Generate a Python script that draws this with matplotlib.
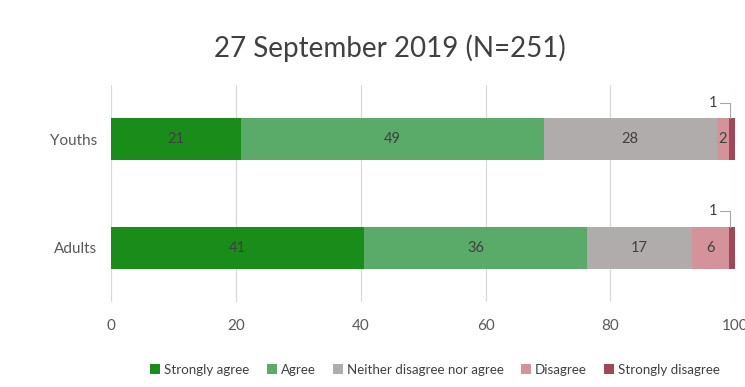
import numpy as np
import matplotlib.pyplot as plt

groups = ["Adults", "Youths"]
categories = ["Strongly agree", "Agree", "Neither disagree nor agree",
              "Disagree", "Strongly disagree"]
adults = [41, 36, 17, 6, 1]
youths = [21, 49, 28, 2, 1]
colors = ["#1a8c1a", "#5aaa6a", "#b0acac", "#d4929a", "#a04858"]

plt.rcParams["font.family"] = ["Lato", "DejaVu Sans"]

fig = plt.figure(figsize=(7.45, 3.87), dpi=100)
ax = fig.add_axes([0.149, 0.2196, 0.838, 0.5607])

data = np.array([adults, youths], dtype=float)
# bars are drawn on a 0-100 scale (the rounded labels add up to 101)
scaled = data / data.sum(axis=1, keepdims=True) * 100
left = np.zeros(len(groups))
y = np.arange(len(groups))
for i, cat in enumerate(categories):
    ax.barh(y, scaled[:, i], left=left, height=0.39, color=colors[i],
            label=cat, zorder=2)
    for j in range(len(groups)):
        v = data[j, i]
        cx = left[j] + scaled[j, i] / 2
        if scaled[j, i] > 1.5:
            ax.text(cx, y[j], f"{v:g}", ha="center", va="center",
                    fontsize=10.5, color="#404040", zorder=3)
        else:
            # small segment: label with a leader line above the bar
            top = y[j] + 0.39 / 2
            ly = top + 0.14
            ax.plot([cx - 2.0, cx - 0.4, cx - 0.4], [ly, ly, top],
                    color="#a6a6a6", lw=0.8, zorder=3, clip_on=False)
            ax.text(cx - 2.4, ly, f"{v:g}", ha="right", va="center",
                    fontsize=10.5, color="#404040", zorder=3)
    left += scaled[:, i]

ax.set_xlim(0, 100)
ax.set_ylim(-0.5, 1.5)
ax.set_xticks(np.arange(0, 101, 20))
ax.set_yticks(y)
ax.set_yticklabels(groups)
ax.tick_params(length=0, labelsize=11, colors="#595959", pad=10)
ax.tick_params(axis="x", pad=12)
ax.grid(axis="x", color="#d9d9d9", lw=0.9, zorder=0)
for s in ax.spines.values():
    s.set_visible(False)

fig.suptitle("27 September 2019 (N=251)", x=0.523, y=0.91, fontsize=20,
             color="#404040")
fig.legend(loc="center", bbox_to_anchor=(0.584, 0.044), ncol=5, frameon=False,
           fontsize=9.6, handlelength=0.75, handleheight=0.75,
           handletextpad=0.3, columnspacing=1.3, labelcolor="#404040")

fig.savefig("out.png", dpi=100)
